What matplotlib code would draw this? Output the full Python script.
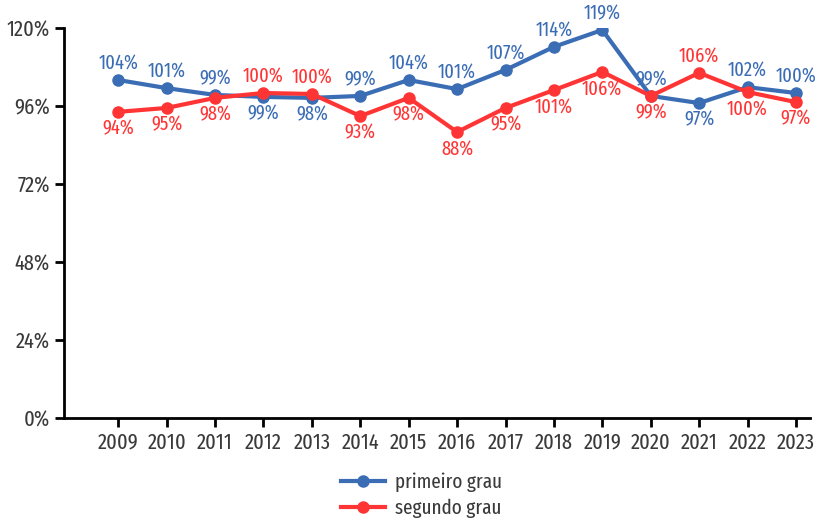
import numpy as np
import matplotlib
matplotlib.use("Agg")
import matplotlib.pyplot as plt
from matplotlib.ticker import FuncFormatter

plt.rcParams['font.family'] = ['Fira Sans Extra Condensed', 'Fira Sans Condensed', 'DejaVu Sans']

anos = np.arange(2009, 2024)
primeiro = [104.0, 101.5, 99.4, 98.8, 98.5, 99.1, 104.0, 101.2, 107.1, 114.2, 119.4, 99.1, 96.9, 101.8, 100.0]
segundo = [94.2, 95.4, 98.5, 100.0, 99.7, 92.9, 98.5, 88.0, 95.4, 100.9, 106.5, 99.1, 106.2, 100.3, 97.2]
rot_primeiro = [104, 101, 99, 99, 98, 99, 104, 101, 107, 114, 119, 99, 97, 102, 100]
rot_segundo = [94, 95, 98, 100, 100, 93, 98, 88, 95, 101, 106, 99, 106, 100, 97]
# posicao dos rotulos: 1 = acima, -1 = abaixo
lado_primeiro = [1, 1, 1, -1, -1, 1, 1, 1, 1, 1, 1, 1, -1, 1, 1]
lado_segundo = [-1, -1, -1, 1, 1, -1, -1, -1, -1, -1, -1, -1, 1, -1, -1]

azul = '#3b6db5'
vermelho = '#ff3535'
cinza = '#3a3a3a'

fig = plt.figure(figsize=(8.26, 5.21), dpi=100)
ax = fig.add_axes([64 / 826, 103 / 521, 746 / 826, 390 / 521])

ax.plot(anos, primeiro, color=azul, lw=3, marker='o', ms=8, label='primeiro grau', zorder=3)
ax.plot(anos, segundo, color=vermelho, lw=3, marker='o', ms=8, label='segundo grau', zorder=4)

for x, y, r, s in zip(anos, primeiro, rot_primeiro, lado_primeiro):
    ax.annotate(f'{r}%', (x, y), textcoords='offset points', xytext=(0, 5 * s),
                ha='center', va='bottom' if s > 0 else 'top', color=azul, fontsize=14.5)
for x, y, r, s in zip(anos, segundo, rot_segundo, lado_segundo):
    ax.annotate(f'{r}%', (x, y), textcoords='offset points', xytext=(0, 5 * s),
                ha='center', va='bottom' if s > 0 else 'top', color=vermelho, fontsize=14.5)

ax.set_ylim(0, 120)
ax.set_yticks(np.arange(0, 121, 24))
ax.yaxis.set_major_formatter(FuncFormatter(lambda v, p: f'{v:.0f}%'))
ax.set_xlim(2007.88, 2023.29)
ax.set_xticks(anos)
ax.spines['top'].set_visible(False)
ax.spines['right'].set_visible(False)
ax.spines['left'].set_linewidth(2)
ax.spines['bottom'].set_linewidth(2)
ax.tick_params(axis='both', width=2, length=6.5, labelsize=16, labelcolor=cinza, color='black')

fig.legend(loc='lower left', bbox_to_anchor=(322 / 826, -0.03), frameon=False, fontsize=15,
           handlelength=2.1, handletextpad=0.5, labelcolor=cinza, labelspacing=0.3)

fig.savefig('out.png', dpi=100)
